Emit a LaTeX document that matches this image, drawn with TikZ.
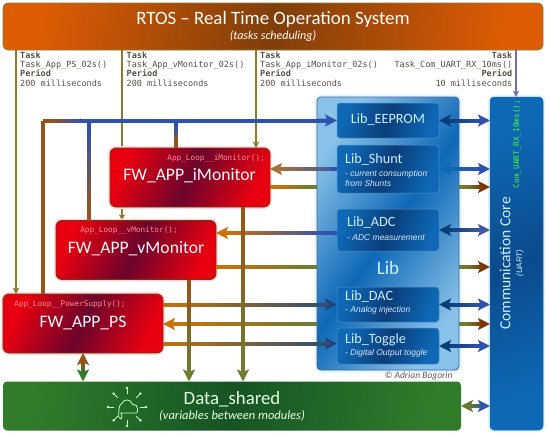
\documentclass[tikz,border=0pt]{standalone}
\usepackage{fontspec}
\setmainfont{Carlito}
\setmonofont{DejaVu Sans Mono}
\newfontfamily\libfont{Liberation Sans}
\usetikzlibrary{
  arrows.meta,
  calc,
  backgrounds
}
\definecolor{rtosorange}{RGB}{222,92,4}
\definecolor{rtosbrown}{RGB}{128,62,10}
\definecolor{modred}{RGB}{232,0,16}
\definecolor{modmaroon}{RGB}{108,4,44}
\definecolor{libblue}{RGB}{14,104,182}
\definecolor{libdark}{RGB}{10,62,122}
\definecolor{libpale}{RGB}{136,194,232}
\definecolor{datagreen}{RGB}{48,124,42}
\definecolor{datadark}{RGB}{22,84,36}
\definecolor{taskolive}{RGB}{140,124,44}
\definecolor{taskviolet}{RGB}{118,108,178}
\definecolor{wirebrown}{RGB}{150,84,26}
\definecolor{wireorange}{RGB}{204,112,8}
\definecolor{wireolive}{RGB}{112,124,48}
\definecolor{wireblue}{RGB}{48,82,172}
\definecolor{wirenavy}{RGB}{38,56,128}
\definecolor{wiregrey}{RGB}{112,112,118}
\definecolor{tiptan}{RGB}{122,54,10}
\definecolor{taskgrey}{RGB}{88,78,66}
\definecolor{looppink}{RGB}{255,140,140}
\definecolor{libtext}{RGB}{205,238,255}
\newcommand{\fsize}[1]{\fontsize{#1}{#1}\selectfont}
\tikzset{
  bigtip/.tip={Stealth[length=12pt,width=12pt,inset=2.5pt]},
  smalltip/.tip={Stealth[length=6pt,width=6pt,inset=1pt]},
  wire/.style={line width=4pt},
  tapwire/.style={line width=1.5pt,-smalltip},
  modbox/.style={rounded corners=6pt,inner sep=0pt,outer sep=0pt,minimum width=160pt,minimum height=59pt,
    preaction={draw=modred!14,line width=4pt},draw=tiptan,line width=.8pt,
    left color=modred,right color=modred,middle color=modmaroon,shading angle=65},
  subbox/.style={rounded corners=3pt,inner sep=0pt,outer sep=0pt,minimum width=102pt,
    draw=libblue!70!white,line width=.5pt,
    left color=libblue,right color=libblue,middle color=libdark,shading angle=70},
  tasktext/.style={font=\ttfamily\fontsize{8.5}{9.4}\selectfont,text=taskgrey,inner sep=0pt,align=left,anchor=north west},
  looptext/.style={font=\ttfamily\fsize{7.7},text=looppink,inner sep=0pt},
  modtext/.style={font=\fsize{17.6},text=white!90!pink,inner sep=0pt},
  libname/.style={font=\fsize{14.2},text=libtext,inner sep=0pt,anchor=west},
  libnote/.style={font=\libfont\itshape\fsize{8.5},text=white!85!libblue,inner sep=0pt,anchor=west,align=left}
}
% segments blended from #3 to #4, with the tips #5 and #6 at the two ends
\newcommand{\gradlink}[6]{
  \coordinate (gA) at (#1);
  \coordinate (gB) at (#2);
  \draw[wire,draw=#3,#5] ($(gA)!.5!(gB)$) -- (gA);
  \draw[wire,draw=#4,#6] ($(gA)!.5!(gB)$) -- (gB);
  \coordinate (gC) at ($(gA)!8pt!(gB)$);
  \coordinate (gD) at ($(gB)!8pt!(gA)$);
  \foreach \part in {0,...,19}{
    \pgfmathtruncatemacro{\mixval}{\part*100/19}
    \draw[wire,draw=#4!\mixval!#3] ($(gC)!\part/20!(gD)$) -- ($(gC)!\part/20+0.06!(gD)$);
  }
}

\begin{document}
\begin{tikzpicture}[x=1pt,y=-1pt]
  \path[use as bounding box] (0,0) rectangle (550,437);

  % levels and taps
  \coordinate (imonOut) at (0,187);
  \coordinate (adcIn) at (0,233);
  \coordinate (vmonOut) at (0,267);
  \coordinate (psIn) at (0,324);
  \coordinate (toggleIn) at (0,343.5);
  \coordinate (tapPS) at (16,0);
  \coordinate (tapV) at (122,0);
  \coordinate (tapI) at (256,0);
  \coordinate (tapCom) at (516,0);
  \coordinate (dropPS) at (43,0);
  \coordinate (dropV) at (89,0);
  \coordinate (dropI) at (176,0);
  \coordinate (outV) at (189,0);
  \coordinate (outI) at (243,0);
  \coordinate (linkPS) at (83,0);

  % boxes
  \node[rounded corners=5pt,inner sep=0pt,outer sep=0pt,minimum width=540pt,minimum height=47pt,
    draw=taskolive,line width=.8pt,
    left color=rtosorange,right color=rtosorange,middle color=rtosbrown,shading angle=80]
    (rtos) at (273,26.5) {};
  \node[rounded corners=4pt,inner sep=0pt,outer sep=0pt,minimum width=142pt,minimum height=273pt,
    preaction={draw=cyan!12,line width=5pt},draw=wirenavy!80,line width=.8pt,
    left color=libpale,right color=libpale,middle color=libblue,shading angle=55]
    (lib) at (388,233.5) {};
  \node[rounded corners=4pt,inner sep=0pt,outer sep=0pt,minimum width=53pt,minimum height=333pt,
    preaction={draw=cyan!12,line width=4pt},draw=libblue,line width=.5pt,
    left color=libblue,right color=libblue,middle color=libdark!70!libblue,shading angle=20]
    (com) at (516.5,263.5) {};
  \node[rounded corners=4pt,inner sep=0pt,outer sep=0pt,minimum width=458pt,minimum height=49pt,
    left color=datagreen,right color=datagreen,middle color=datadark,shading angle=80]
    (data) at (232,406) {};
  \node[modbox] (imon) at (190,177.5) {};
  \node[modbox] (vmon) at (136,250) {};
  \node[modbox] (ps) at (83,323.5) {};
  \node[subbox,minimum height=35pt] (eeprom) at (388,120.5) {};
  \node[subbox,minimum height=48pt] (shunt) at (388,169) {};
  \node[subbox,minimum height=42pt] (adc) at (388,230) {};
  \node[subbox,minimum height=35pt] (dac) at (388,304.5) {};
  \node[subbox,minimum height=36pt] (toggle) at (388,346) {};

  % texts
  \node[font=\fsize{18.9},text=white,inner sep=0pt] (rtosName) at (273,19) {RTOS – Real Time Operation System};
  \node[font=\itshape\fsize{12},text=white,inner sep=0pt] (rtosNote) at (273,36) {(tasks scheduling)};
  \node[tasktext] (taskPS) at (20,51.5) {\textbf{Task}\\Task\_App\_PS\_02s()\\\textbf{Period}\\200 milliseconds};
  \node[tasktext] (taskV) at (126.5,51.5) {\textbf{Task}\\Task\_App\_vMonitor\_02s()\\\textbf{Period}\\200 milliseconds};
  \node[tasktext] (taskI) at (260,51.5) {\textbf{Task}\\Task\_App\_iMonitor\_02s()\\\textbf{Period}\\200 milliseconds};
  \node[tasktext,align=right,anchor=north east] (taskCom) at (512.5,51.5) {\textbf{Task}\\Task\_Com\_UART\_RX\_10ms()\\\textbf{Period}\\10 milliseconds};
  \node[looptext,anchor=east] (loopI) at (265,158) {App\_Loop\_\_iMonitor();};
  \node[modtext] (nameI) at (189.5,176) {FW\_APP\_iMonitor};
  \node[looptext] (loopV) at (129,230.5) {App\_Loop\_\_vMonitor();};
  \node[modtext] (nameV) at (136,249) {FW\_APP\_vMonitor};
  \node[looptext] (loopPS) at (70,304) {App\_Loop\_\_PowerSupply();};
  \node[modtext] (namePS) at (83,323) {FW\_APP\_PS};
  \node[font=\fsize{14.2},text=libtext,inner sep=0pt] (nameE) at (388,119.5) {Lib\_EEPROM};
  \node[libname] (nameS) at (345,160) {Lib\_Shunt};
  \node[libnote] (noteS) at (345,178.5) {- current consumption\\[1pt]from Shunts};
  \node[libname] (nameA) at (347,223) {Lib\_ADC};
  \node[libnote] (noteA) at (347,238) {- ADC measurement};
  \node[font=\fsize{19},text=libtext,inner sep=0pt] (nameL) at (388,268) {Lib};
  \node[libname] (nameD) at (345,297) {Lib\_DAC};
  \node[libnote] (noteD) at (345,310) {- Analog injection};
  \node[libname] (nameT) at (345,340) {Lib\_Toggle};
  \node[libnote] (noteT) at (345,353) {- Digital Output toggle};
  \node[font=\itshape\fsize{9.5},text=black!65,inner sep=0pt] (credit) at (418.5,376.5) {© Adrian Bogorin};
  \node[font=\fsize{15.5},text=libtext,inner sep=0pt,rotate=90] (nameC) at (505,263.5) {Communication Core};
  \node[font=\libfont\itshape\fsize{8},text=libtext,inner sep=0pt,rotate=90] (noteC) at (520,263) {(UART)};
  \node[font=\ttfamily\fsize{7.7},text=green!85!yellow!85!white,inner sep=0pt,rotate=90] (loopC) at (517,144) {Com\_UART\_RX\_10ms();};
  \node[font=\fsize{18.8},text=white!90!green,inner sep=0pt] (nameData) at (232,399) {Data\_shared};
  \node[font=\itshape\fsize{12.5},text=white!90!green,inner sep=0pt] (noteData) at (232,416) {(variables between modules)};

  % cloud icon
  \coordinate (cloudIcon) at (127,407);
  \draw[white!75!green,line width=.8pt,rounded corners=2pt] ($(cloudIcon)+(-8,6)$) arc (90:270:-3) 
    .. controls ($(cloudIcon)+(-9,-1)$) and ($(cloudIcon)+(-6,-2)$) .. ($(cloudIcon)+(-5,-2)$)
    .. controls ($(cloudIcon)+(-4,-8)$) and ($(cloudIcon)+(4,-8)$) .. ($(cloudIcon)+(5,-2)$)
    .. controls ($(cloudIcon)+(11,-3)$) and ($(cloudIcon)+(12,6)$) .. ($(cloudIcon)+(7,6)$) -- cycle;
  \foreach \ang in {-90,-45,-135,0,180,45,90,135}{
    \draw[white!75!green,line width=.8pt] ($(cloudIcon)+(\ang:13)$) -- ($(cloudIcon)+(\ang:18)$);
    \fill[white!85!green] ($(cloudIcon)+(\ang:19)$) circle (1.3pt);
  }

  % tasks from the scheduler
  \draw[tapwire,taskolive] (tapPS |- rtos.south) -- (tapPS |- ps.north);
  \begin{scope}[on background layer]
    \draw[tapwire,taskolive] (tapV |- rtos.south) -- (tapV |- vmon.north);
  \end{scope}
  \draw[tapwire,taskolive] (tapI |- rtos.south) -- (tapI |- imon.north);
  \draw[tapwire,taskviolet] (tapCom |- rtos.south) -- (tapCom |- com.north);

  % shared bus
  \draw[wire,wirebrown] (dropPS |- ps.north) -- (dropPS |- eeprom.west);
  \gradlink{dropPS |- eeprom.west}{dropV |- eeprom.west}{wirebrown}{wireblue}{-}{-}
  \gradlink{dropV |- eeprom.west}{eeprom.west}{wireblue}{wireblue}{-}{-bigtip}
  \gradlink{dropV |- vmon.north}{dropV |- eeprom.west}{wirebrown}{wireblue}{-}{-}
  \gradlink{dropI |- imon.north}{dropI |- eeprom.west}{wirebrown}{wireblue}{-}{-}

  % modules and libraries
  \gradlink{imon.east |- shunt.west}{shunt.west}{wireorange!60!wiregrey}{wireblue}{-bigtip}{-}
  \gradlink{vmon.east |- adcIn}{adc.west |- adcIn}{wireorange}{wireblue}{-bigtip}{-}
  \gradlink{imon.east |- imonOut}{lib.west |- imonOut}{wireorange}{wireolive}{-}{-}
  \gradlink{vmon.east |- vmonOut}{lib.west |- vmonOut}{wireorange}{wireolive}{-}{-}
  \gradlink{ps.east |- dac.west}{dac.west}{wireorange!80!wireolive}{wirenavy!85!teal}{-}{-bigtip}
  \gradlink{ps.east |- psIn}{lib.west |- psIn}{wireorange}{wireolive}{-bigtip}{-}
  \gradlink{ps.east |- toggleIn}{toggle.west |- toggleIn}{wireorange!80!wireolive}{wirenavy!85!teal}{-}{-bigtip}

  % through the library to the core
  \gradlink{lib.east |- imonOut}{com.west |- imonOut}{wireolive}{tiptan}{-}{-bigtip}
  \gradlink{lib.east |- vmonOut}{com.west |- vmonOut}{wireolive}{tiptan}{-}{-bigtip}
  \gradlink{lib.east |- psIn}{com.west |- psIn}{wireolive}{tiptan}{-}{-bigtip}

  % libraries and core
  \gradlink{eeprom.east}{com.west |- eeprom.east}{libdark}{wireblue}{-bigtip}{-bigtip}
  \gradlink{shunt.east}{com.west |- shunt.east}{libblue}{wireblue}{-bigtip}{-bigtip}
  \gradlink{adc.east}{com.west |- adc.east}{libdark}{wireblue!80!wiregrey}{-bigtip}{-bigtip}
  \gradlink{dac.east}{com.west |- dac.east}{libdark}{wireblue}{-bigtip}{-bigtip}
  \gradlink{toggle.east}{com.west |- toggle.east}{libdark}{wireblue}{-bigtip}{-bigtip}
  \gradlink{data.east}{com.west |- data.east}{wireolive!80!datagreen}{wireblue}{-bigtip}{-bigtip}

  % modules and shared data
  \gradlink{outV |- vmon.south}{outV |- data.north}{wirebrown}{wireolive}{-}{-bigtip}
  \gradlink{outI |- imon.south}{outI |- data.north}{wirebrown}{wireolive}{-}{-bigtip}
  \gradlink{linkPS |- ps.south}{linkPS |- data.north}{wirebrown}{datagreen}{-bigtip}{-bigtip}
\end{tikzpicture}
\end{document}
